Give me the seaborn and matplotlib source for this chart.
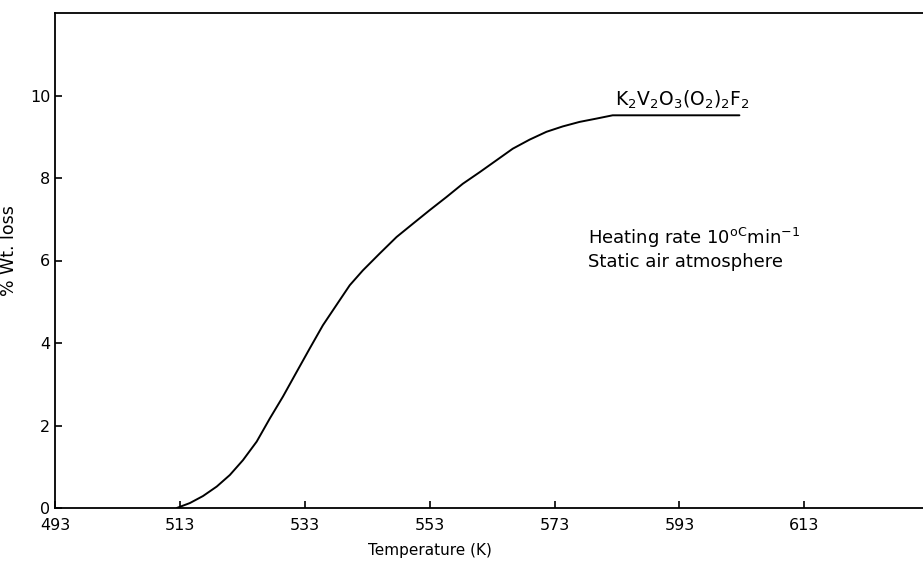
import pandas as pd
import seaborn as sns
import matplotlib.pyplot as plt

# ── Data ───────────────────────────────────────────────────────────────────
temperature = [512.5, 514.6, 516.7, 518.9, 521.0, 523.1, 525.3, 527.4, 529.5,
               531.7, 533.8, 535.9, 538.6, 540.2, 542.3, 545.0, 547.7, 550.3,
               553.0, 555.7, 558.3, 561.0, 563.7, 566.3, 569.0, 571.7, 574.3,
               577.0, 579.7, 582.3, 602.6]
wt_loss = [0.0, 0.12, 0.29, 0.52, 0.80, 1.16, 1.61, 2.17, 2.70,
           3.30, 3.87, 4.43, 5.04, 5.40, 5.76, 6.17, 6.57, 6.89,
           7.22, 7.54, 7.86, 8.14, 8.43, 8.71, 8.93, 9.12, 9.25,
           9.36, 9.44, 9.52, 9.52]

x_ticks = [493, 513, 533, 553, 573, 593, 613]
y_ticks = [0, 2, 4, 6, 8, 10]

df = pd.DataFrame({"temperature": temperature, "wt_loss": wt_loss})

sns.set_style("ticks")
plt.rcParams["font.family"] = ["DejaVu Sans"]
plt.rcParams["text.color"] = "black"
plt.rcParams["axes.labelcolor"] = "black"

fig = plt.figure(figsize=(9.23, 5.61), dpi=100)
ax = fig.add_axes([55 / 923, 53 / 561, 1 - 55 / 923, 495 / 561])

sns.lineplot(data=df, x="temperature", y="wt_loss", ax=ax,
             color="black", linewidth=1.4, sort=False, estimator=None)

ax.set_xlim(493, 632)
ax.set_ylim(0, 12)
ax.set_xticks(x_ticks)
ax.set_yticks(y_ticks)
ax.tick_params(direction="in", length=5, width=1.2, labelsize=11.5, colors="black")
ax.tick_params(axis="x", pad=7)

for side in ["left", "bottom", "top"]:
    ax.spines[side].set_linewidth(1.3)
    ax.spines[side].set_color("black")
ax.spines["right"].set_visible(False)

ax.set_xlabel("Temperature (K)", fontsize=11)
ax.set_ylabel("% Wt. loss", fontsize=12.5)
ax.xaxis.set_label_coords(0.432, -0.07)
ax.yaxis.set_label_coords(-0.043, 0.52)

ax.text(582.6, 9.62, r"$\mathregular{K_2V_2O_3(O_2)_2F_2}$", fontsize=13.5,
        ha="left", va="bottom")
ax.text(578.4, 6.4, r"Heating rate $\mathregular{10^{oC}min^{-1}}$",
        fontsize=13, ha="left", va="baseline")
ax.text(578.4, 5.85, "Static air atmosphere", fontsize=13,
        ha="left", va="baseline")

fig.savefig("out.png", dpi=100)
